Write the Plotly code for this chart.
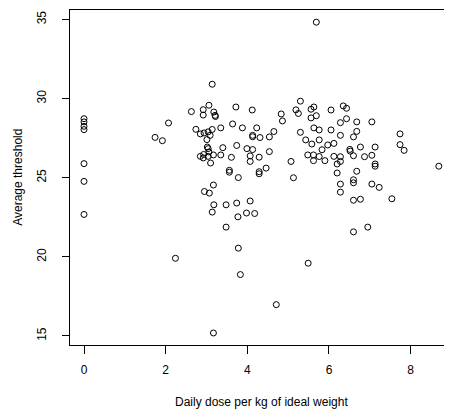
import plotly.graph_objects as go

# Daily dose per kg of ideal weight
dose = [
    0, 0, 0, 0, 0, 0, 0,
    1.74, 1.92, 2.07, 2.24, 2.63, 2.74, 2.85, 2.85, 2.92, 2.92, 2.93, 2.92, 2.94,
    2.95, 3.01, 3.02, 3.04, 3.04, 3.04, 3.06, 3.06, 3.07, 3.09, 3.10, 3.14, 3.14,
    3.14, 3.17, 3.17, 3.18, 3.17, 3.18, 3.21, 3.22, 3.35, 3.35, 3.40, 3.48, 3.48,
    3.56, 3.56, 3.61, 3.64, 3.72, 3.74, 3.74, 3.77, 3.78, 3.78, 3.83, 3.88, 3.98,
    3.99, 4.07, 4.07, 4.07, 4.12, 4.13, 4.13, 4.13, 4.18, 4.23, 4.29, 4.29, 4.29,
    4.31, 4.46, 4.54, 4.54, 4.65, 4.71, 4.83, 4.86, 5.07, 5.13, 5.19, 5.25, 5.30,
    5.30, 5.43, 5.48, 5.49, 5.56, 5.56, 5.58, 5.62, 5.62, 5.63, 5.63, 5.69, 5.69,
    5.76, 5.76, 5.76, 5.83, 5.90, 5.97, 6.05, 6.05, 6.12, 6.12, 6.20, 6.20, 6.28,
    6.28, 6.28, 6.28, 6.28, 6.28, 6.35, 6.43, 6.43, 6.51, 6.52, 6.60, 6.60, 6.60,
    6.60, 6.60, 6.60, 6.68, 6.68, 6.68, 6.77, 6.77, 6.87, 6.95, 7.05, 7.05, 7.05,
    7.13, 7.13, 7.13, 7.23, 7.54, 7.74, 7.74, 7.84, 8.69,
]

# Average threshold
threshold = [
    28.73, 28.53, 28.25, 28.04, 25.89, 24.77, 22.68,
    27.55, 27.34, 28.46, 19.91, 29.18, 28.06, 27.77, 26.35, 29.30, 28.96, 26.47, 26.25, 27.83,
    24.13, 27.41, 26.94, 26.84, 27.90, 26.35, 26.63, 29.58, 24.03, 27.68, 25.93, 30.91, 28.05,
    22.83, 24.54, 15.19, 29.15, 26.44, 23.29, 28.94, 28.87, 28.15, 26.44, 26.90, 23.29, 21.88,
    25.47, 25.35, 26.29, 28.40, 29.47, 27.04, 23.40, 22.53, 25.01, 20.55, 18.88, 28.15, 22.77,
    26.84, 23.53, 26.38, 26.03, 29.28, 27.68, 27.59, 26.78, 22.74, 28.15, 26.30, 25.38, 25.25,
    27.54, 25.61, 27.58, 26.65, 27.92, 16.98, 29.03, 28.59, 26.03, 25.00, 29.29, 29.06, 29.84,
    27.87, 27.39, 26.44, 19.60, 29.33, 28.78, 27.13, 26.44, 26.08, 29.47, 28.15, 34.83, 28.92,
    28.02, 27.39, 26.34, 26.77, 26.08, 27.07, 29.28, 28.02, 27.17, 26.35, 25.87, 25.30, 28.48,
    27.68, 26.33, 26.03, 24.60, 24.09, 29.54, 29.39, 28.73, 26.79, 26.68, 27.58, 26.39, 24.87,
    24.68, 23.58, 21.58, 28.53, 27.93, 25.41, 26.94, 23.64, 26.33, 21.88, 28.53, 26.42, 24.60,
    26.94, 25.87, 25.73, 24.39, 23.67, 27.77, 27.09, 26.73, 25.73,
]

x_ticks = [0, 2, 4, 6, 8]
y_ticks = [15, 20, 25, 30, 35]
x_title = "Daily dose per kg of ideal weight"
y_title = "Average threshold"

FONT = "Liberation Sans, Arial, Helvetica, sans-serif"

fig = go.Figure()
fig.add_trace(go.Scatter(
    x=dose, y=threshold, mode="markers",
    marker=dict(symbol="circle-open", size=6, color="black", line=dict(width=1, color="black")),
    showlegend=False, hoverinfo="x+y",
))

# The page body adds an 8 px margin, so the figure is 8 px smaller on each side.
fig.update_layout(
    width=444, height=408,
    margin=dict(l=62, r=0, t=2, b=71),
    paper_bgcolor="white", plot_bgcolor="white",
    font=dict(family=FONT, size=12, color="black"),
    xaxis=dict(
        range=[-0.343, 9.013], tickvals=x_ticks, ticktext=[str(v) for v in x_ticks],
        showgrid=False, zeroline=False, showline=True, linecolor="black", linewidth=1,
        mirror=True, ticks="outside", ticklen=8, tickwidth=1, tickcolor="black",
        ticklabelstandoff=6,
        tickfont=dict(family=FONT, size=12, color="black"),
    ),
    yaxis=dict(
        range=[14.43, 35.6], tickvals=y_ticks, ticktext=[str(v) for v in y_ticks],
        showgrid=False, zeroline=False, showline=True, linecolor="black", linewidth=1,
        mirror=False, ticks="outside", ticklen=7, tickwidth=1, tickcolor="black",
        tickangle=-90, ticklabelstandoff=11,
        tickfont=dict(family=FONT, size=12, color="black"),
    ),
    annotations=[
        dict(text=x_title, xref="paper", yref="paper", x=0.5, y=-0.169,
             xanchor="center", yanchor="middle", showarrow=False,
             font=dict(family=FONT, size=12, color="black")),
        dict(text=y_title, xref="paper", yref="paper", x=-0.138, y=0.5,
             xanchor="center", yanchor="middle", showarrow=False, textangle=-90,
             font=dict(family=FONT, size=12, color="black")),
    ],
)

fig.write_html("out.html")
